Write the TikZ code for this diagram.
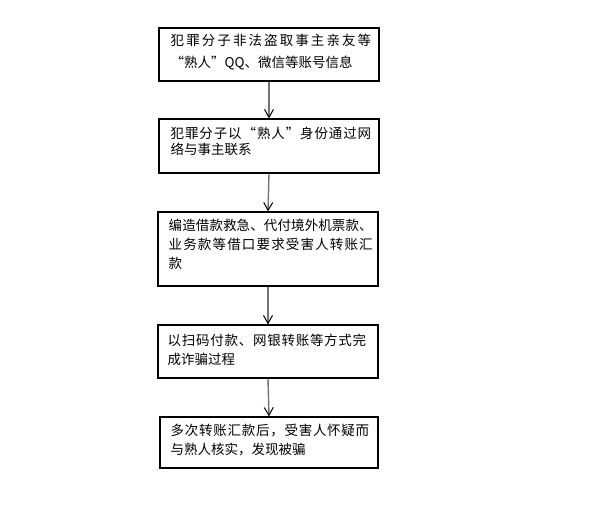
\documentclass[tikz,border=0pt]{standalone}
\usepackage{fontspec}
\setmainfont{Noto Sans CJK SC}
\usetikzlibrary{arrows.meta}
\let\jend\relax
\def\jaux#1#2\jend{#1\ifx\jend#2\jend\else\hfill\jaux#2\jend\fi}
\newcommand\jl[2]{\hbox to #1pt{\jaux#2\jend}}
\tikzset{
  box/.style={draw=black, line width=1.2pt, rectangle, inner sep=0pt},
  txt/.style={inner sep=0pt, anchor=base west, font=\fontsize{13.5}{16}\selectfont},
  arr/.style={draw=black!55, line width=1.4pt,
    -{Straight Barb[length=8pt, width=9pt, line width=1pt, color=black]}}
}
\begin{document}
\begin{tikzpicture}[x=1pt, y=-1pt]
\useasboundingbox (0,0) rectangle (598,517);
\fill[white] (0,0) rectangle (598,517);
% boxes
\node[box, minimum width=220pt, minimum height=53pt] (b1) at (269,54.5) {};
\node[box, minimum width=220pt, minimum height=54pt] (b2) at (269,146) {};
\node[box, minimum width=220pt, minimum height=74pt] (b3) at (268,249) {};
\node[box, minimum width=220pt, minimum height=53pt] (b4) at (268,351.5) {};
\node[box, minimum width=218pt, minimum height=51pt] (b5) at (269,442.5) {};
% texts
\node[txt] (t1a) at (170.5,45.9) {\jl{200.5}{犯罪分子非法盗取事主亲友等}};
\node[txt] (t1b) at (170.5,67.9) {“熟人”QQ、微信等账号信息};
\node[txt] (t2a) at (170.5,138.1) {\jl{200.5}{犯罪分子以“熟人”身份通过网}};
\node[txt] (t2b) at (170.5,154.6) {络与事主联系};
\node[txt] (t3a) at (168.5,230.1) {\jl{204}{编造借款救急、代付境外机票款、}};
\node[txt] (t3b) at (168.5,249.6) {\jl{204}{业务款等借口要求受害人转账汇}};
\node[txt] (t3c) at (168.5,268.1) {款};
\node[txt] (t4a) at (167.5,345.6) {\jl{198.5}{以扫码付款、网银转账等方式完}};
\node[txt] (t4b) at (167.5,364.1) {成诈骗过程};
\node[txt] (t5a) at (170.5,435.6) {\jl{198.5}{多次转账汇款后，受害人怀疑而}};
\node[txt] (t5b) at (170.5,454.6) {与熟人核实，发现被骗};
% arrows
\draw[arr] (b1.south) -- (b2.north);
\draw[arr] (b2.south) -- (b3.north);
\draw[arr] (b3.south) -- (b4.north);
\draw[arr] (b4.south) -- (b5.north);
\end{tikzpicture}
\end{document}
